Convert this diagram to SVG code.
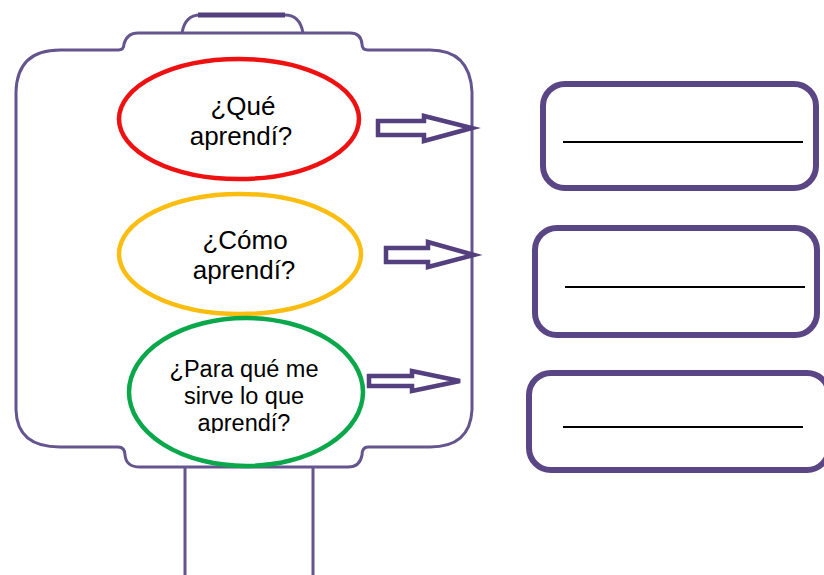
<svg xmlns="http://www.w3.org/2000/svg" width="824" height="575" viewBox="0 0 824 575">
<style>
.body{fill:none;stroke:#65558f;stroke-width:3}
.box{fill:#fff;stroke:#5a4585;stroke-width:6}
.line{stroke:#000;stroke-width:2}
.arrow{fill:#fff;stroke:#54407f;stroke-width:4.5;stroke-linejoin:miter}
.q{fill:#fff;stroke-width:4.5}
.t{font-family:"Liberation Sans",Arial,sans-serif;font-size:26px;fill:#000;text-anchor:middle}
.s{font-size:23.5px}
</style>
<defs>
<clipPath id="clipG"><rect x="0" y="0" width="824" height="433"/></clipPath>
</defs>
<rect width="824" height="575" fill="#fff"/>
<g id="frame">
<path class="body" d="M182,33 Q185,15 200,15 L285,15 Q300,15 303,33"/>
<path d="M198,15 L285,15" stroke="#54407f" stroke-width="5" fill="none"/>
<path class="body" d="M60,50 L118,50 Q124,50 124,44 Q127,33 138,33 L350,33 Q361,33 362,44 Q362,50 368,50 L430,50 Q470,50 472,92 L472,410 Q470,447 430,447 L368,447 Q362,447 362,455 Q360,467 348,467 L140,467 Q126,467 125,455 Q125,447 118,447 L60,447 Q17,447 16,410 L16,92 Q17,50 60,50 Z"/>
<path class="body" d="M185,467 L185,575 M313,467 L313,575"/>
</g>
<g id="q1">
<ellipse class="q" cx="239" cy="119" rx="120" ry="60" stroke="#ee1111"/>
<text class="t" x="243" y="115">¿Qué</text>
<text class="t" x="241" y="145">aprendí?</text>
</g>
<g id="q2">
<ellipse class="q" cx="240" cy="254" rx="121" ry="60" stroke="#fbbd0f"/>
<text class="t" x="245" y="249">¿Cómo</text>
<text class="t" x="244" y="279">aprendí?</text>
</g>
<g id="q3">
<ellipse class="q" cx="246" cy="392" rx="117" ry="74" stroke="#0aa84a"/>
<g clip-path="url(#clipG)">
<text class="t s" x="244" y="377">¿Para qué me</text>
<text class="t s" x="244" y="404">sirve lo que</text>
<text class="t s" x="244" y="431">aprendí?</text>
</g>
</g>
<g id="a1">
<rect class="box" x="543" y="84" width="273" height="104" rx="22"/>
<line class="line" x1="563" y1="142" x2="803" y2="142"/>
</g>
<g id="a2">
<rect class="box" x="535" y="228" width="282" height="107" rx="22"/>
<line class="line" x1="565" y1="287" x2="805" y2="287"/>
</g>
<g id="a3">
<rect class="box" x="529" y="373" width="300" height="97" rx="22"/>
<line class="line" x1="563" y1="427" x2="803" y2="427"/>
</g>
<g id="connectors">
<path class="arrow" d="M378,121 L424,121 L424,116 L472,128 L424,141 L424,135 L378,135 Z"/>
<path class="arrow" d="M386,248 L428,248 L428,242 L474,255 L428,267 L428,262 L386,262 Z"/>
<path class="arrow" d="M369,376 L412,376 L412,371 L460,381 L412,391 L412,386 L369,386 Z"/>
</g>
</svg>
